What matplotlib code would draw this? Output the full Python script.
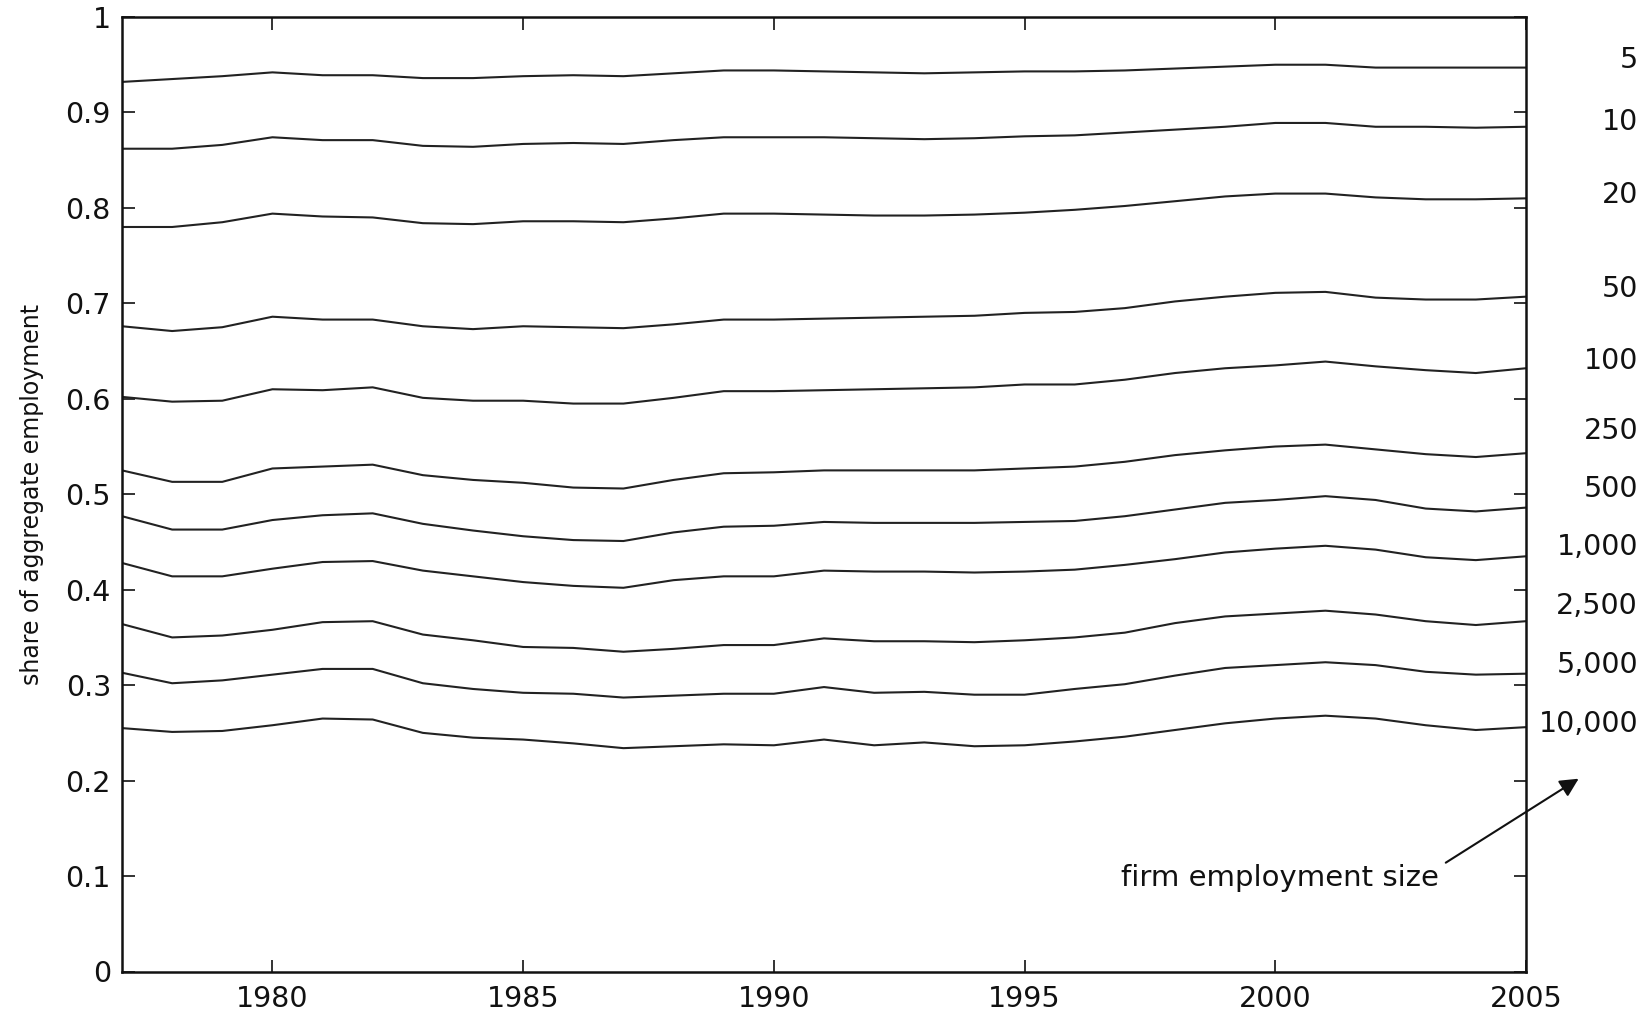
import matplotlib
matplotlib.use("Agg")
import matplotlib.pyplot as plt
import matplotlib.transforms as mtransforms

# ---------------- data ----------------
years = list(range(1977, 2006))
size_labels = ["5", "10", "20", "50", "100", "250", "500", "1,000", "2,500", "5,000", "10,000"]

s5 = [0.932, 0.935, 0.938, 0.942, 0.939, 0.939, 0.936, 0.936, 0.938, 0.939,
      0.938, 0.941, 0.944, 0.944, 0.943, 0.942, 0.941, 0.942, 0.943, 0.943,
      0.944, 0.946, 0.948, 0.950, 0.950, 0.947, 0.947, 0.947, 0.947]
s10 = [0.862, 0.862, 0.866, 0.874, 0.871, 0.871, 0.865, 0.864, 0.867, 0.868,
       0.867, 0.871, 0.874, 0.874, 0.874, 0.873, 0.872, 0.873, 0.875, 0.876,
       0.879, 0.882, 0.885, 0.889, 0.889, 0.885, 0.885, 0.884, 0.885]
s20 = [0.780, 0.780, 0.785, 0.794, 0.791, 0.790, 0.784, 0.783, 0.786, 0.786,
       0.785, 0.789, 0.794, 0.794, 0.793, 0.792, 0.792, 0.793, 0.795, 0.798,
       0.802, 0.807, 0.812, 0.815, 0.815, 0.811, 0.809, 0.809, 0.810]
s50 = [0.676, 0.671, 0.675, 0.686, 0.683, 0.683, 0.676, 0.673, 0.676, 0.675,
       0.674, 0.678, 0.683, 0.683, 0.684, 0.685, 0.686, 0.687, 0.690, 0.691,
       0.695, 0.702, 0.707, 0.711, 0.712, 0.706, 0.704, 0.704, 0.707]
s100 = [0.602, 0.597, 0.598, 0.610, 0.609, 0.612, 0.601, 0.598, 0.598, 0.595,
        0.595, 0.601, 0.608, 0.608, 0.609, 0.610, 0.611, 0.612, 0.615, 0.615,
        0.620, 0.627, 0.632, 0.635, 0.639, 0.634, 0.630, 0.627, 0.632]
s250 = [0.525, 0.513, 0.513, 0.527, 0.529, 0.531, 0.520, 0.515, 0.512, 0.507,
        0.506, 0.515, 0.522, 0.523, 0.525, 0.525, 0.525, 0.525, 0.527, 0.529,
        0.534, 0.541, 0.546, 0.550, 0.552, 0.547, 0.542, 0.539, 0.543]
s500 = [0.477, 0.463, 0.463, 0.473, 0.478, 0.480, 0.469, 0.462, 0.456, 0.452,
        0.451, 0.460, 0.466, 0.467, 0.471, 0.470, 0.470, 0.470, 0.471, 0.472,
        0.477, 0.484, 0.491, 0.494, 0.498, 0.494, 0.485, 0.482, 0.486]
s1000 = [0.428, 0.414, 0.414, 0.422, 0.429, 0.430, 0.420, 0.414, 0.408, 0.404,
         0.402, 0.410, 0.414, 0.414, 0.420, 0.419, 0.419, 0.418, 0.419, 0.421,
         0.426, 0.432, 0.439, 0.443, 0.446, 0.442, 0.434, 0.431, 0.435]
s2500 = [0.364, 0.350, 0.352, 0.358, 0.366, 0.367, 0.353, 0.347, 0.340, 0.339,
         0.335, 0.338, 0.342, 0.342, 0.349, 0.346, 0.346, 0.345, 0.347, 0.350,
         0.355, 0.365, 0.372, 0.375, 0.378, 0.374, 0.367, 0.363, 0.367]
s5000 = [0.313, 0.302, 0.305, 0.311, 0.317, 0.317, 0.302, 0.296, 0.292, 0.291,
         0.287, 0.289, 0.291, 0.291, 0.298, 0.292, 0.293, 0.290, 0.290, 0.296,
         0.301, 0.310, 0.318, 0.321, 0.324, 0.321, 0.314, 0.311, 0.312]
s10000 = [0.255, 0.251, 0.252, 0.258, 0.265, 0.264, 0.250, 0.245, 0.243, 0.239,
          0.234, 0.236, 0.238, 0.237, 0.243, 0.237, 0.240, 0.236, 0.237, 0.241,
          0.246, 0.253, 0.260, 0.265, 0.268, 0.265, 0.258, 0.253, 0.256]

series = [s5, s10, s20, s50, s100, s250, s500, s1000, s2500, s5000, s10000]

yticks = [0, 0.1, 0.2, 0.3, 0.4, 0.5, 0.6, 0.7, 0.8, 0.9, 1.0]
ytick_labels = ["0", "0.1", "0.2", "0.3", "0.4", "0.5", "0.6", "0.7", "0.8", "0.9", "1"]
xticks = [1980, 1985, 1990, 1995, 2000, 2005]

# ---------------- layout ----------------
label_y = [0.955, 0.890, 0.814, 0.715, 0.640, 0.566, 0.506, 0.445, 0.383, 0.321, 0.259]

plt.rcParams['font.family'] = ['DejaVu Sans']

W, H = 1650, 1011
fig = plt.figure(figsize=(W / 100, H / 100), dpi=100)
left, right, top, bottom = 122, 1526, 17, 971.5
ax = fig.add_axes([left / W, (H - bottom) / H, (right - left) / W, (bottom - top) / H])

for s in series:
    ax.plot(years, s, color='#222222', lw=1.5)

ax.set_xlim(1977, 2005)
ax.set_ylim(0, 1)
ax.set_xticks(xticks)
ax.set_xticklabels([str(x) for x in xticks])
ax.set_yticks(yticks)
ax.set_yticklabels(ytick_labels)

ax.tick_params(direction='in', top=True, right=True, length=9, width=1.2,
               labelsize=20.5, colors='#111111')
ax.tick_params(axis='y', pad=8)
ax.tick_params(axis='x', pad=10)
for sp in ax.spines.values():
    sp.set_linewidth(1.8)
    sp.set_color('#111111')

ax.set_ylabel("share of aggregate employment", fontsize=17, color='#111111')
ax.yaxis.set_label_coords(-0.0556, 0.5)

trans = mtransforms.blended_transform_factory(ax.transAxes, ax.transData)
for lab, yy in zip(size_labels, label_y):
    ax.text(1.0798, yy, lab, transform=trans, ha='right', va='center',
            fontsize=20.5, color='#111111', clip_on=False)

ax.text(2003.26, 0.098, "firm employment size", ha='right', va='center',
        fontsize=21, color='#111111', clip_on=False)
ax.annotate("", xy=(2006.05, 0.202), xytext=(2003.4, 0.114),
            arrowprops=dict(arrowstyle='-|>', color='#111111', lw=1.5,
                            mutation_scale=28, shrinkA=0, shrinkB=0),
            annotation_clip=False)

fig.savefig("out.png", dpi=100)
